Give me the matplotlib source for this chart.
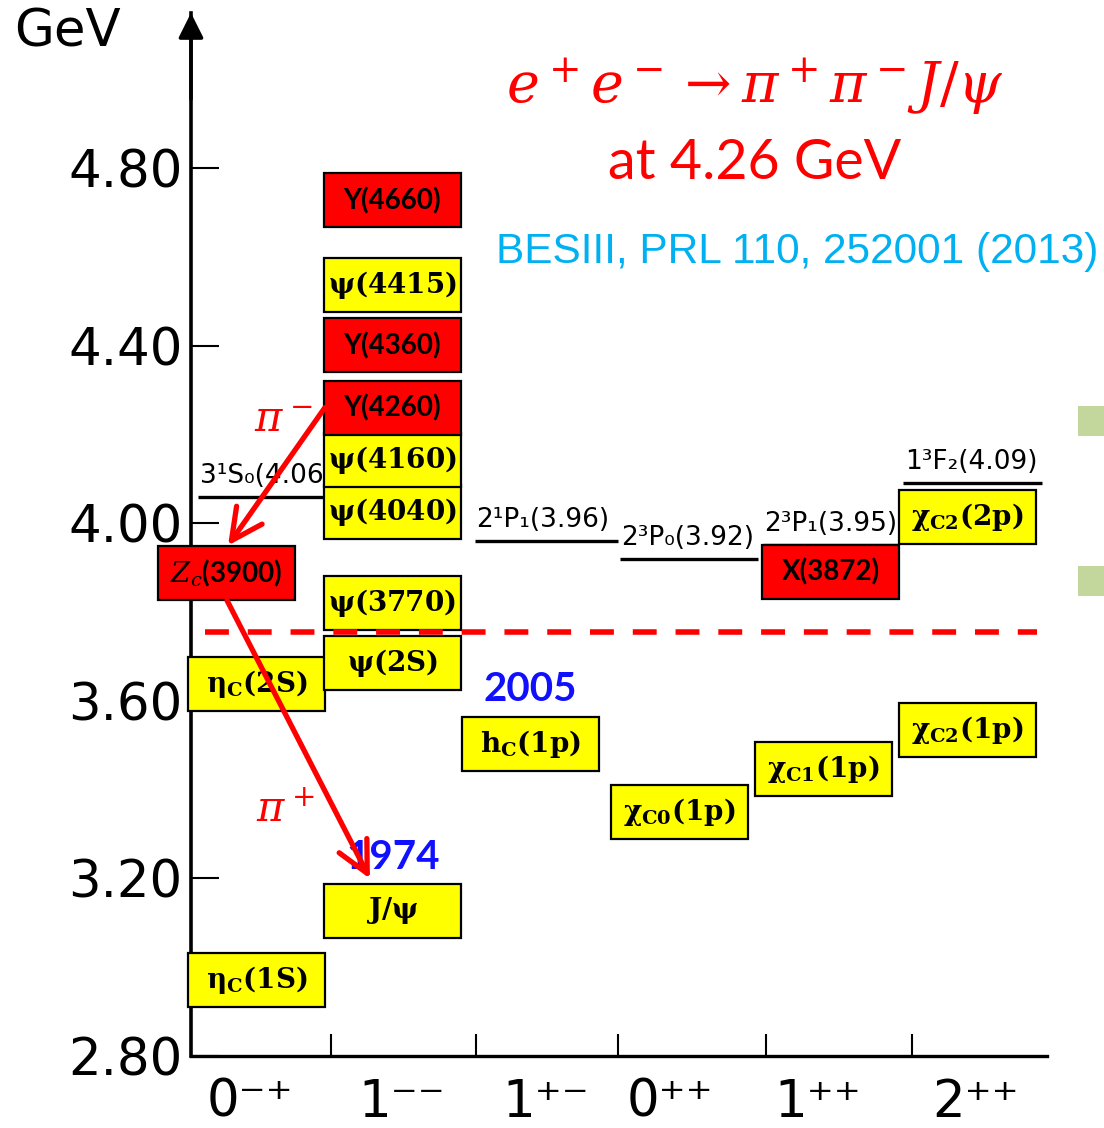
import matplotlib
matplotlib.use("Agg")
import matplotlib.pyplot as plt
from matplotlib.patches import Rectangle

plt.rcParams['mathtext.fontset'] = 'dejavuserif'

# ---- data ----
# y axis (GeV) and J^PC columns
y_ticks = [2.80, 3.20, 3.60, 4.00, 4.40, 4.80]
col_edges = [0.97, 1.98, 2.96, 3.99, 5.00]
jpc_pos = [0.41, 1.46, 2.46, 3.32, 4.35, 5.44]
jpc_labels = ['0⁻⁺', '1⁻⁻', '1⁺⁻', '0⁺⁺', '1⁺⁺', '2⁺⁺']

# observed states: label, column centre, mass centre (GeV), box colour
yellow_labels = [r'$\mathbf{\eta_{C}(1S)}$', r'$\mathbf{\eta_{C}(2S)}$',
                 r'$\mathbf{J/\psi}$', r'$\mathbf{\psi(2S)}$',
                 r'$\mathbf{\psi(3770)}$', r'$\mathbf{\psi(4040)}$',
                 r'$\mathbf{\psi(4160)}$', r'$\mathbf{\psi(4415)}$',
                 r'$\mathbf{h_{C}(1p)}$', r'$\mathbf{\chi_{C0}(1p)}$',
                 r'$\mathbf{\chi_{C1}(1p)}$', r'$\mathbf{\chi_{C2}(1p)}$',
                 r'$\mathbf{\chi_{C2}(2p)}$']
yellow_x = [0.454, 0.454, 1.397, 1.397, 1.397, 1.397, 1.397, 1.397,
            2.354, 3.388, 4.386, 5.385, 5.385]
yellow_y = [2.970, 3.638, 3.126, 3.685, 3.821, 4.026, 4.143, 4.537,
            3.503, 3.349, 3.447, 3.535, 4.014]

red_labels = ['Y(4260)', 'Y(4360)', 'Y(4660)', '$Z_c$(3900)', 'X(3872)']
red_x = [1.397, 1.397, 1.397, 0.246, 4.438]
red_y = [4.260, 4.401, 4.728, 3.887, 3.890]

# old potential-model predictions: label, x start, x end, mass (GeV)
pred_labels = ['3¹S₀(4.06)', '2¹P₁(3.96)', '2³P₀(3.92)', '2³P₁(3.95)', '1³F₂(4.09)']
pred_x0 = [0.05, 1.97, 2.975, 3.967, 4.94]
pred_x1 = [0.93, 2.96, 3.93, 4.91, 5.90]
pred_m = [4.06, 3.96, 3.92, 3.95, 4.09]

threshold = 3.756
pi_minus = [(0.929, 4.261), (0.257, 3.950)]
pi_plus = [(0.250, 3.826), (1.241, 3.199)]

box_w = 0.95
box_h = 0.122

fig = plt.figure(figsize=(11.04, 11.28), dpi=100)
fig.patch.set_facecolor('white')
ax = fig.add_axes([0.1730, 0.0642, 0.7758, 0.9241])
ax.set_xlim(0, 5.94)
ax.set_ylim(2.80, 5.15)
ax.spines['top'].set_visible(False)
ax.spines['right'].set_visible(False)
ax.spines['left'].set_linewidth(2.6)
ax.spines['bottom'].set_linewidth(2.4)

ax.set_yticks(y_ticks)
ax.set_yticklabels([f'{v:.2f}' for v in y_ticks])
ax.tick_params(axis='y', direction='in', length=20, width=1.5, pad=6, labelsize=37)
ax.set_xticks(col_edges)
ax.set_xticklabels([])
ax.tick_params(axis='x', which='major', direction='in', length=16, width=1.5)
ax.set_xticks(jpc_pos, minor=True)
ax.set_xticklabels(jpc_labels, minor=True)
ax.tick_params(axis='x', which='minor', length=0, pad=16, labelsize=37)

# arrow head on the mass axis
ax.annotate('', xy=(0, 5.157), xytext=(0, 4.95), annotation_clip=False,
            arrowprops=dict(arrowstyle='-|>', mutation_scale=38, lw=2.6, color='black'))
fig.text(0.013, 0.993, 'GeV', fontsize=37, va='top', ha='left')

# predicted levels
for lab, x0, x1, m in zip(pred_labels, pred_x0, pred_x1, pred_m):
    ax.plot([x0, x1], [m, m], color='black', lw=2.4, zorder=2, solid_capstyle='butt')
    ax.text(x0 + 0.01, m + 0.018, lab, fontsize=19, ha='left', va='bottom', zorder=2)

# boxes
def draw_box(x, y, color, label, **kw):
    ax.add_patch(Rectangle((x - box_w / 2, y - box_h / 2), box_w, box_h,
                           facecolor=color, edgecolor='black', lw=1.6, zorder=3,
                           clip_on=False))
    ax.text(x, y, label, ha='center', va='center', zorder=4, **kw)

for lab, x, y in zip(yellow_labels, yellow_x, yellow_y):
    draw_box(x, y, '#ffff00', lab, fontsize=20)
for lab, x, y in zip(red_labels, red_x, red_y):
    draw_box(x, y, '#ff0000', lab, fontsize=20, fontfamily='Lato', fontweight='bold')

# open-charm threshold
ax.plot([0.097, 5.87], [threshold, threshold], color='#ff0000', lw=4,
        dashes=(4.3, 3.4), zorder=5)

# discovery years
ax.text(2.351, 3.625, '2005', color='#1010ff', fontsize=29, fontfamily='Lato',
        fontweight='bold', ha='center', va='center', zorder=4)
ax.text(1.401, 3.246, '1974', color='#1010ff', fontsize=29, fontfamily='Lato',
        fontweight='bold', ha='center', va='center', zorder=4)

# pion transitions
for (start, end) in [pi_minus, pi_plus]:
    ax.annotate('', xy=end, xytext=start, zorder=6,
                arrowprops=dict(arrowstyle='->, head_length=0.8, head_width=0.4',
                                mutation_scale=28, lw=3.8, color='#ff0000',
                                shrinkA=0, shrinkB=0))
ax.text(0.638, 4.232, r'$\pi^-$', color='#ff0000', fontsize=30, ha='center', va='center', zorder=6)
ax.text(0.652, 3.353, r'$\pi^+$', color='#ff0000', fontsize=30, ha='center', va='center', zorder=6)

# headline
ax.text(3.911, 4.985, r'$e^+e^-\rightarrow\pi^+\pi^-J/\psi$', color='#ff0000',
        fontsize=40, ha='center', va='center')
ax.text(3.911, 4.811, 'at 4.26 GeV', color='#ff0000', fontsize=40,
        fontfamily='Lato', ha='center', va='center')
ax.text(4.203, 4.612, 'BESIII, PRL 110, 252001 (2013)', color='#00b0f0',
        fontsize=30.5, fontfamily='Liberation Sans', ha='center', va='center')

# slide bullets cut at the right edge
for yb in [4.196, 3.835]:
    ax.add_patch(Rectangle((6.15, yb), 0.3, 0.069, facecolor='#c3d69b',
                           edgecolor='none', clip_on=False))

fig.savefig('out.png', dpi=100, facecolor='white')
